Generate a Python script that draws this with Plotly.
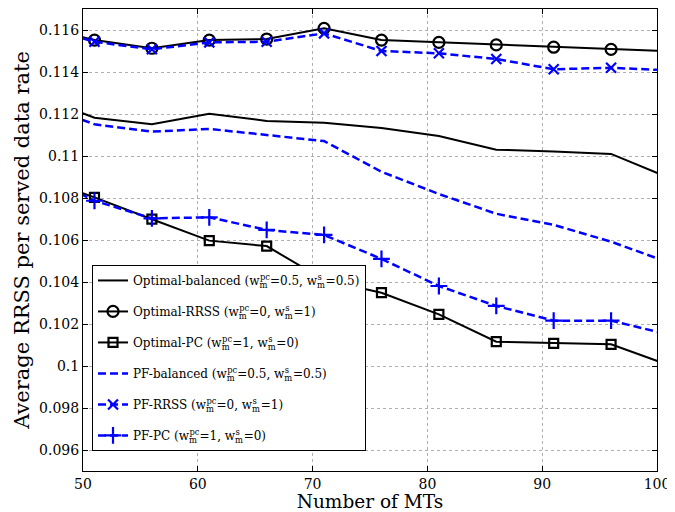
import plotly.graph_objects as go

# Number of MTs (first/last points lie just outside the visible x-range)
mts = [46, 51, 56, 61, 66, 71, 76, 81, 86, 91, 96, 101]

opt_balanced = [0.11287, 0.11182, 0.11151, 0.11201, 0.11167, 0.11158, 0.11133, 0.11095, 0.11030, 0.11022, 0.11010, 0.10897]
opt_rrss = [0.11620, 0.11552, 0.11513, 0.11552, 0.11557, 0.11608, 0.11552, 0.11541, 0.11529, 0.11518, 0.11508, 0.11499]
opt_pc = [0.10898, 0.10803, 0.10699, 0.10597, 0.10571, 0.10410, 0.10349, 0.10246, 0.10116, 0.10108, 0.10103, 0.10005]
pf_balanced = [0.11251, 0.11151, 0.11116, 0.11129, 0.11100, 0.11071, 0.10925, 0.10819, 0.10725, 0.10672, 0.10592, 0.10493]
pf_rrss = [0.11624, 0.11544, 0.11508, 0.11541, 0.11544, 0.11584, 0.11500, 0.11489, 0.11462, 0.11413, 0.11420, 0.11408]
pf_pc = [0.10922, 0.10787, 0.10703, 0.10708, 0.10648, 0.10624, 0.10510, 0.10381, 0.10286, 0.10216, 0.10216, 0.10150]

x_ticks = [50, 60, 70, 80, 90, 100]
y_ticks = [0.096, 0.098, 0.100, 0.102, 0.104, 0.106, 0.108, 0.110, 0.112, 0.114, 0.116]
y_ticktext = ['0.096', '0.098', '0.1', '0.102', '0.104', '0.106', '0.108', '0.11', '0.112', '0.114', '0.116']

FONT = "DejaVu Serif"


def w(sup, val):
    m = '<sub><span style="letter-spacing:-7.5px">m</span></sub>'
    if sup == 's':
        return 'w' + m + '<sup>s</sup> =' + val
    return 'w' + m + '<sup>' + sup + '</sup>=' + val


names = [
    'Optimal-balanced (' + w('pc', '0.5') + ', ' + w('s', '0.5') + ')',
    'Optimal-RRSS (' + w('pc', '0') + ', ' + w('s', '1') + ')',
    'Optimal-PC (' + w('pc', '1') + ', ' + w('s', '0') + ')',
    'PF-balanced (' + w('pc', '0.5') + ', ' + w('s', '0.5') + ')',
    'PF-RRSS (' + w('pc', '0') + ', ' + w('s', '1') + ')',
    'PF-PC (' + w('pc', '1') + ', ' + w('s', '0') + ')',
]

BLACK = '#000000'
BLUE = '#0000ff'
DASH = '8px,4px'

fig = go.Figure()

specs = [
    (opt_balanced, names[0], BLACK, 'solid', None, 0, 2),
    (opt_rrss, names[1], BLACK, 'solid', 'circle-open', 11, 2),
    (opt_pc, names[2], BLACK, 'solid', 'square-open', 9, 2),
    (pf_balanced, names[3], BLUE, DASH, None, 0, 2.5),
    (pf_rrss, names[4], BLUE, DASH, 'x-thin-open', 10, 2.5),
    (pf_pc, names[5], BLUE, DASH, 'cross-thin-open', 12, 2.5),
]

for i, (ys, name, col, dash, sym, size, lw) in enumerate(specs):
    kw = dict(
        x=mts, y=ys, name=name, legendgroup='g%d' % i,
        line=dict(color=col, width=lw, dash=dash),
        cliponaxis=True,
    )
    if sym is None:
        kw['mode'] = 'lines'
    else:
        kw['mode'] = 'lines+markers'
        kw['marker'] = dict(symbol=sym, size=size, color=col,
                            line=dict(color=col, width=2.2))
    fig.add_trace(go.Scatter(**kw))

axis_common = dict(
    showline=True, linecolor='black', linewidth=1, mirror='ticks',
    ticks='inside', ticklen=5, tickcolor='black',
    showgrid=True, gridcolor='#b0b0b0', griddash='dot', gridwidth=1,
    zeroline=False, ticklabeloverflow='allow',
    tickfont=dict(family=FONT, size=14, color='black'),
)

fig.update_xaxes(range=[50, 100], tickvals=x_ticks,
                 title=dict(text='Number of MTs', font=dict(family=FONT, size=18.5, color='black'), standoff=5),
                 **axis_common)
fig.update_yaxes(range=[0.095, 0.117], tickvals=y_ticks, ticktext=y_ticktext,
                 title=dict(text='Average RRSS per served data rate', font=dict(family=FONT, size=21, color='black'), standoff=3),
                 **axis_common)

# the page body adds an 8px offset at left/top, so the figure is 8px smaller with 8px less left/top margin
fig.update_layout(
    width=667, height=504,
    margin=dict(l=75, r=18, t=1, b=41, autoexpand=False),
    paper_bgcolor='white', plot_bgcolor='white',
    font=dict(family=FONT, color='black'),
    showlegend=True,
    legend=dict(
        x=0.0157, y=0.446, xanchor='left', yanchor='top',
        bgcolor='white', bordercolor='black', borderwidth=1,
        font=dict(family=FONT, size=12, color='black'),
        tracegroupgap=12, itemwidth=30,
    ),
)

fig.write_html("out.html")
